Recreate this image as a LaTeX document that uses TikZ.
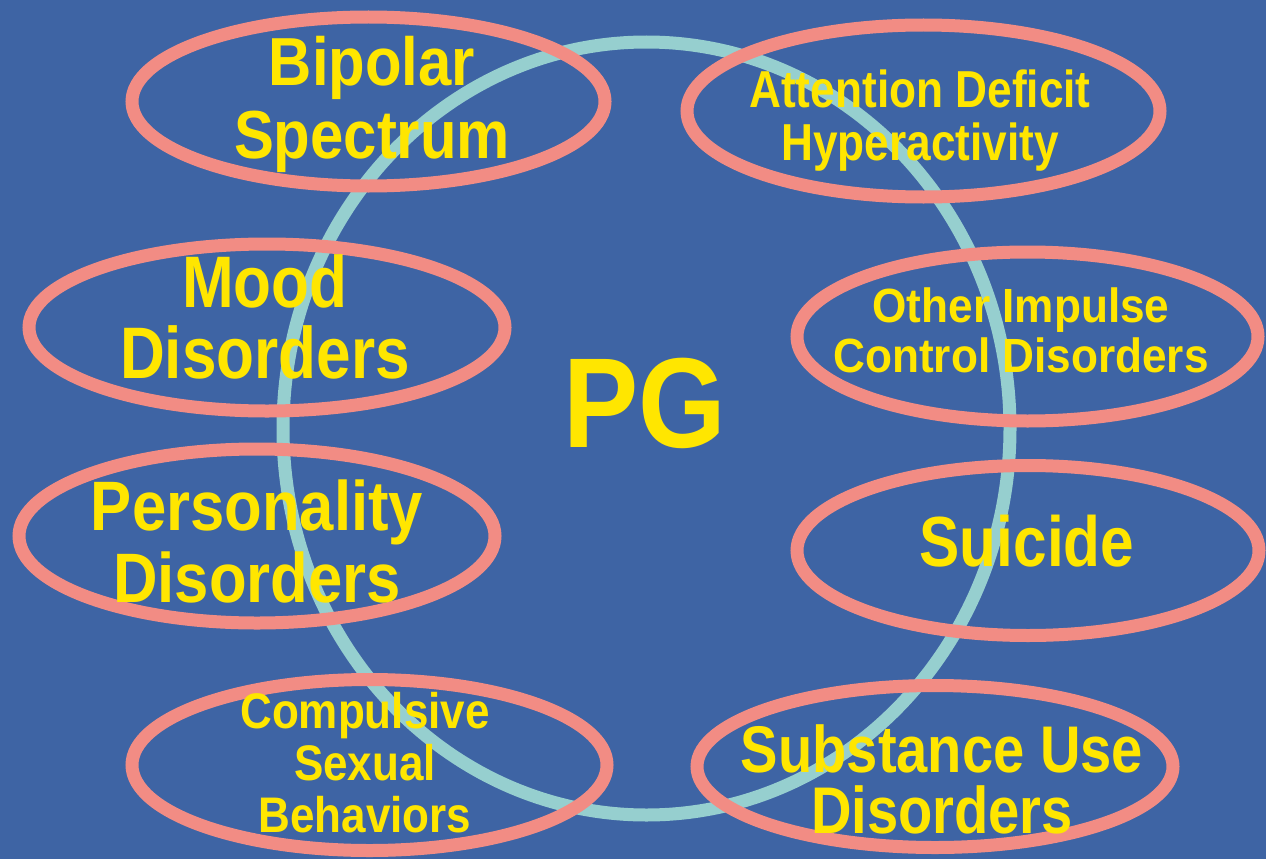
\documentclass[tikz,border=0pt]{standalone}
\usepackage{fontspec}
\newfontfamily\labfont[FakeStretch=0.88]{Liberation Sans}
\newfontfamily\labwide[FakeStretch=0.92]{Liberation Sans}
\newfontfamily\labnarrow[FakeStretch=0.85]{Liberation Sans}
\usetikzlibrary{shapes.geometric}
\definecolor{bg}{HTML}{3E64A4}
\definecolor{salmon}{HTML}{F28C84}
\definecolor{tealc}{HTML}{96CFCF}
\definecolor{yel}{HTML}{FFE600}
\newcommand{\mlines}[1]{\vtop{\lineskiplimit=-1000pt\lineskip=0pt\halign{\hfil##\hfil\cr#1\cr}}}
\tikzset{
  ring/.style={draw=salmon, line width=13pt, shape=ellipse, inner sep=0pt},
  hub/.style={draw=tealc, line width=13pt, shape=ellipse, inner sep=0pt},
  lab/.style={text=yel, anchor=base, inner sep=0pt},
}
\begin{document}
\begin{tikzpicture}[x=1pt,y=-1pt]
\fill[bg] (0,0) rectangle (1266,859);
\useasboundingbox (0,0) rectangle (1266,859);
% central ring
\node[hub, minimum width=727pt, minimum height=773pt] (hubring) at (646.5,428.5) {};
% satellite ellipses
\node[ring, minimum width=473pt, minimum height=169pt] (e1) at (368.5,101.5) {};
\node[ring, minimum width=473pt, minimum height=172pt] (e2) at (923.5,111) {};
\node[ring, minimum width=476pt, minimum height=167pt] (e3) at (267,327.5) {};
\node[ring, minimum width=461pt, minimum height=169pt] (e4) at (1027.5,336.5) {};
\node[ring, minimum width=476pt, minimum height=174pt] (e5) at (257,536) {};
\node[ring, minimum width=462pt, minimum height=170pt] (e6) at (1028,550.5) {};
\node[ring, minimum width=475pt, minimum height=171pt] (e7) at (369.5,765) {};
\node[ring, minimum width=476pt, minimum height=162pt] (e8) at (935,766.5) {};
% labels
\node[lab, font=\labfont\bfseries\fontsize{68}{73}\selectfont] (t1) at (372,85) {\mlines{Bipolar\cr Spectrum}};
\node[lab, font=\labnarrow\bfseries\fontsize{52}{53}\selectfont] (t2) at (920,107) {\mlines{Attention Deficit\cr Hyperactivity}};
\node[lab, font=\labnarrow\bfseries\fontsize{73}{71}\selectfont] (t3) at (265,307) {\mlines{Mood\cr Disorders}};
\node[lab, font=\labwide\bfseries\fontsize{48}{50}\selectfont] (t4) at (1021,322) {\mlines{Other Impulse\cr Control Disorders}};
\node[lab, font=\labfont\bfseries\fontsize{70}{72}\selectfont] (t5) at (257,530) {\mlines{Personality\cr Disorders}};
\node[lab, font=\labnarrow\bfseries\fontsize{71}{71}\selectfont] (t6) at (1027,566) {\mlines{Suicide}};
\node[lab, font=\labfont\bfseries\fontsize{50}{52}\selectfont] (t7) at (365,728) {\mlines{Compulsive\cr Sexual\cr Behaviors}};
\node[lab, font=\labnarrow\bfseries\fontsize{66}{61}\selectfont] (t8) at (942,772) {\mlines{Substance Use\cr Disorders}};
\node[lab, font=\labfont\bfseries\fontsize{128}{128}\selectfont] (pg) at (645,447) {PG};
\end{tikzpicture}
\end{document}
